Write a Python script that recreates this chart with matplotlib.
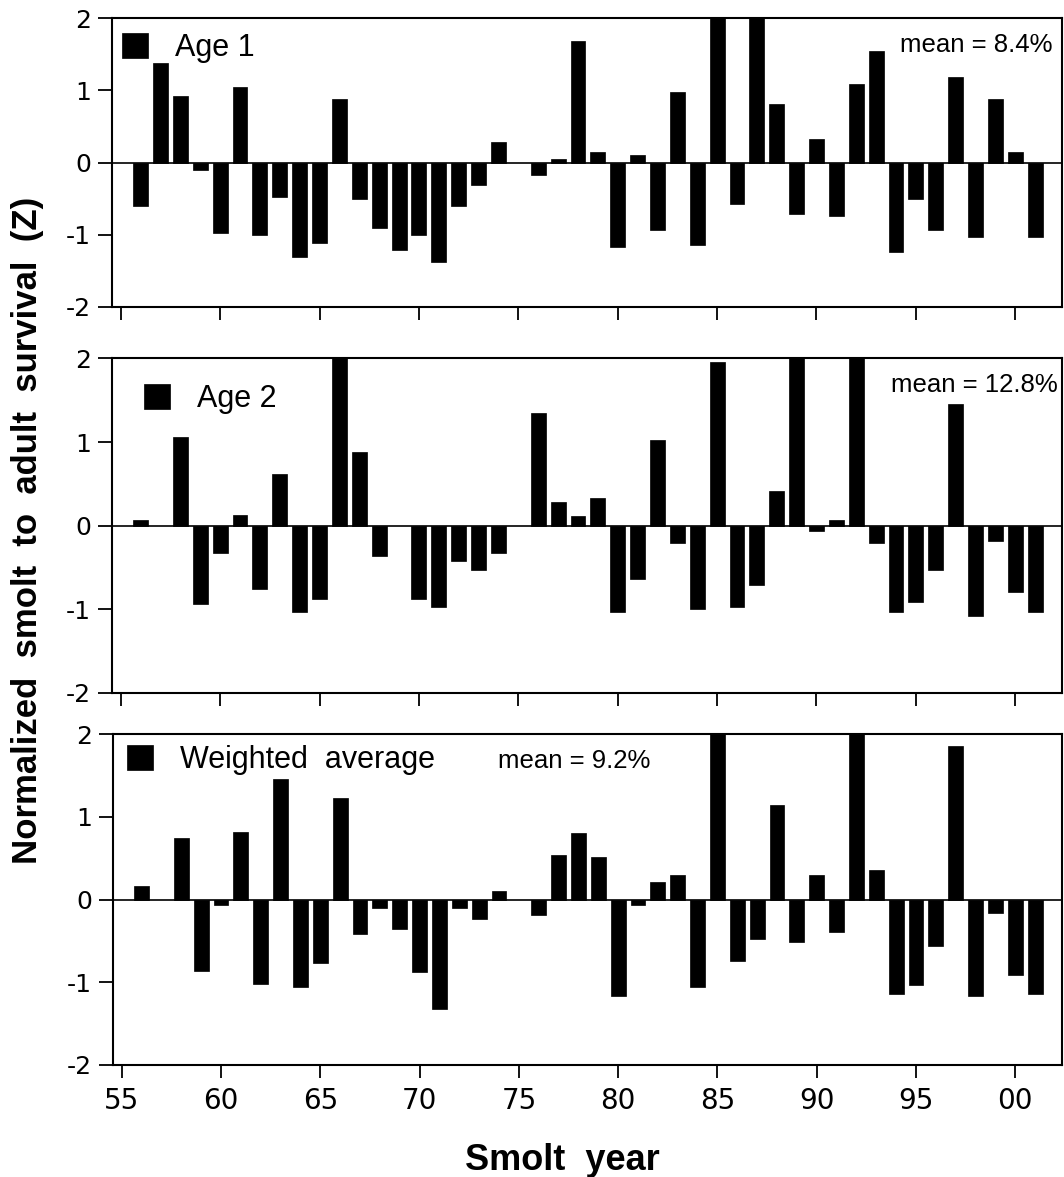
import numpy as np
import matplotlib
matplotlib.use("Agg")
import matplotlib.pyplot as plt

nan = np.nan
years = list(range(56, 102))

age1 = [-0.61, 1.38, 0.92, -0.11, -0.98, 1.05, -1.01, -0.48, -1.31, -1.11,
        0.88, -0.51, -0.91, -1.21, -1.01, -1.38, -0.61, -0.31, 0.29, nan,
        -0.17, 0.055, 1.68, 0.15, -1.17, 0.11, -0.94, 0.98, -1.14, 2.4,
        -0.57, 2.6, 0.81, -0.71, 0.32, -0.74, 1.09, 1.55, -1.24, -0.51,
        -0.94, 1.19, -1.04, 0.88, 0.15, -1.04]

age2 = [0.07, nan, 1.06, -0.94, -0.33, 0.13, -0.76, 0.62, -1.03, -0.88,
        2.3, 0.88, -0.36, nan, -0.88, -0.97, -0.42, -0.53, -0.33, nan,
        1.35, 0.28, 0.11, 0.33, -1.03, -0.64, 1.03, -0.21, -1.0, 1.96,
        -0.97, -0.71, 0.42, 2.2, -0.07, 0.07, 2.5, -0.21, -1.03, -0.91,
        -0.53, 1.46, -1.08, -0.18, -0.80, -1.03]

weighted = [0.16, nan, 0.74, -0.86, -0.07, 0.82, -1.02, 1.46, -1.06, -0.77,
            1.23, -0.42, -0.10, -0.36, -0.88, -1.32, -0.10, -0.24, 0.10, nan,
            -0.19, 0.54, 0.80, 0.51, -1.17, -0.07, 0.21, 0.30, -1.06, 2.3,
            -0.74, -0.48, 1.14, -0.51, 0.30, -0.39, 2.4, 0.36, -1.14, -1.03,
            -0.56, 1.86, -1.17, -0.16, -0.91, -1.14]

series = [age1, age2, weighted]
series_names = ["Age 1", "Age 2", "Weighted  average"]
mean_labels = ["mean = 8.4%", "mean = 12.8%", "mean = 9.2%"]
xtick_vals = [55, 60, 65, 70, 75, 80, 85, 90, 95, 100]
xtick_labels = ["55", "60", "65", "70", "75", "80", "85", "90", "95", "00"]
ytick_vals = [-2, -1, 0, 1, 2]

W, H = 1064, 1177
fig = plt.figure(figsize=(W / 100, H / 100), dpi=100)
plt.rcParams['font.family'] = ['Liberation Sans', 'DejaVu Sans']

# axes boxes in pixels: (left, top, right, bottom)
boxes = [(112, 18.3, 1062, 306.7), (112, 358.5, 1062, 692.7), (113, 734, 1062, 1065)]
leg_anchor = [(0.0105, 0.949), (0.0337, 0.924), (0.0147, 0.967)]
mean_pos = [(0.9905, 0.883, 'right'), (0.9958, 0.901, 'right'), (0.4057, 0.897, 'left')]

for i, (vals, name) in enumerate(zip(series, series_names)):
    l, t, r, b = boxes[i]
    ax = fig.add_axes([l / W, (H - b) / H, (r - l) / W, (b - t) / H])
    bars = ax.bar(years, vals, width=0.75, color='black', edgecolor='black',
                  linewidth=0.5, label=name)
    ax.axhline(0, color='black', lw=1.2, zorder=3)
    ax.set_xlim(54.56, 102.35)
    ax.set_ylim(-2, 2)
    ax.set_yticks(ytick_vals)
    ax.set_yticklabels([str(v) for v in ytick_vals], family='DejaVu Sans', fontsize=18)
    ax.set_xticks(xtick_vals)
    if i == 2:
        ax.set_xticklabels(xtick_labels, family='DejaVu Sans', fontsize=20)
    else:
        ax.set_xticklabels([])
    ax.tick_params(axis='y', direction='out', length=10, width=1.3, pad=5)
    ax.tick_params(axis='x', direction='out', length=9, width=1.3, pad=7)
    for sp in ax.spines.values():
        sp.set_linewidth(1.5)
    ax.legend(handles=[bars], labels=[name], loc='upper left',
              bbox_to_anchor=leg_anchor[i], frameon=False, fontsize=22,
              handlelength=0.85, handleheight=0.85, handletextpad=0.9,
              borderpad=0, borderaxespad=0)
    mx, my, ha = mean_pos[i]
    ax.text(mx, my, mean_labels[i], transform=ax.transAxes, ha=ha, va='baseline',
            fontsize=18.5)

fig.text(28 / W, 1 - 530 / H, "Normalized  smolt  to  adult  survival  (Z)",
         rotation=90, ha='center', va='center', fontsize=25, fontweight='bold')
fig.text(562 / W, 1 - 1170 / H, "Smolt  year", ha='center', va='baseline',
         fontsize=26, fontweight='bold')

fig.savefig("out.png", dpi=100)
